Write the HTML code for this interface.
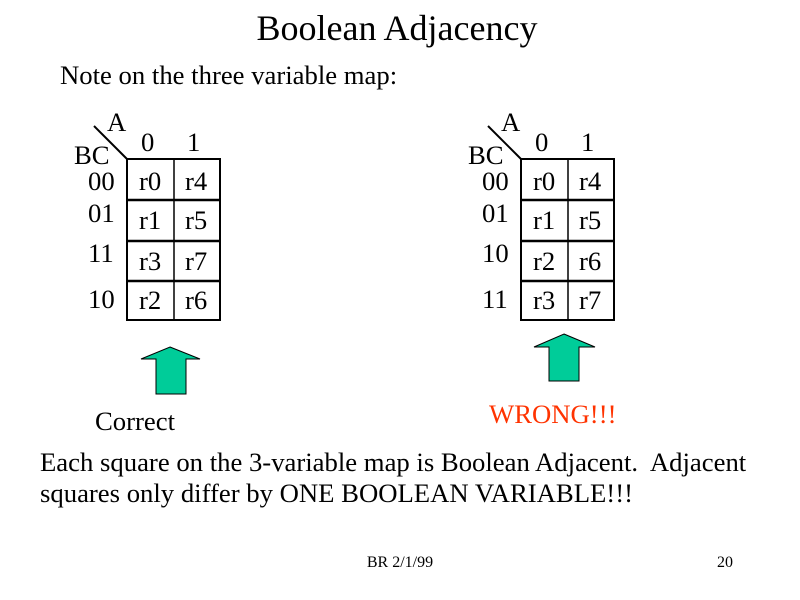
<!DOCTYPE html>
<html><head><style>
html,body{margin:0;padding:0;background:#fff;}
svg{display:block;}
text{font-family:"Liberation Serif",serif;fill:#000;}
</style></head><body>
<svg width="800" height="600" viewBox="0 0 800 600">
<text x="397" y="40" font-size="36" text-anchor="middle">Boolean Adjacency</text>
<text x="60" y="84" font-size="26.7">Note on the three variable map:</text>

<g font-size="26.7">
<line x1="94" y1="126" x2="127" y2="159" stroke="#000" stroke-width="2"/>
<text x="107" y="131">A</text>
<text x="74" y="164">BC</text>
<text x="141" y="151">0</text>
<text x="187" y="151">1</text>
<rect x="127" y="159" width="93" height="161" fill="none" stroke="#000" stroke-width="2"/>
<line x1="174" y1="159" x2="174" y2="320" stroke="#000" stroke-width="1.5"/>
<line x1="127" y1="200" x2="220" y2="200" stroke="#000" stroke-width="2.5"/>
<line x1="127" y1="241" x2="220" y2="241" stroke="#000" stroke-width="2.5"/>
<line x1="127" y1="281" x2="220" y2="281" stroke="#000" stroke-width="2.5"/>
<text x="88" y="190">00</text>
<text x="88" y="222">01</text>
<text x="88" y="262">11</text>
<text x="88" y="308">10</text>
<text x="139" y="190">r0</text><text x="185" y="190">r4</text>
<text x="139" y="229">r1</text><text x="185" y="229">r5</text>
<text x="139" y="270">r3</text><text x="185" y="270">r7</text>
<text x="139" y="309">r2</text><text x="185" y="309">r6</text>
</g>
<polygon points="170,347 200,359 186,359 186,394 156,394 156,359 141,359" fill="#00cc99" stroke="#000" stroke-width="1"/>
<text x="95" y="430" font-size="26.7">Correct</text>

<g font-size="26.7">
<line x1="488" y1="126" x2="521" y2="159" stroke="#000" stroke-width="2"/>
<text x="501" y="131">A</text>
<text x="468" y="164">BC</text>
<text x="535" y="151">0</text>
<text x="581" y="151">1</text>
<rect x="521" y="159" width="93" height="161" fill="none" stroke="#000" stroke-width="2"/>
<line x1="568" y1="159" x2="568" y2="320" stroke="#000" stroke-width="1.5"/>
<line x1="521" y1="200" x2="614" y2="200" stroke="#000" stroke-width="2.5"/>
<line x1="521" y1="241" x2="614" y2="241" stroke="#000" stroke-width="2.5"/>
<line x1="521" y1="281" x2="614" y2="281" stroke="#000" stroke-width="2.5"/>
<text x="482" y="190">00</text>
<text x="482" y="222">01</text>
<text x="482" y="262">10</text>
<text x="482" y="308">11</text>
<text x="533" y="190">r0</text><text x="579" y="190">r4</text>
<text x="533" y="229">r1</text><text x="579" y="229">r5</text>
<text x="533" y="270">r2</text><text x="579" y="270">r6</text>
<text x="533" y="309">r3</text><text x="579" y="309">r7</text>
</g>
<polygon points="564,334 595,347 579,347 579,381 549,381 549,347 534,347" fill="#00cc99" stroke="#000" stroke-width="1"/>
<text x="489" y="423" font-size="26.7" style="fill:#ff3300">WRONG!!!</text>

<text x="40" y="471" font-size="26.7">Each square on the 3-variable map is Boolean Adjacent.&#160; Adjacent</text>
<text x="40" y="502" font-size="26.7">squares only differ by ONE BOOLEAN VARIABLE!!!</text>
<text x="400" y="567" font-size="16" text-anchor="middle">BR 2/1/99</text>
<text x="717" y="567" font-size="16">20</text>
</svg>
</body></html>
